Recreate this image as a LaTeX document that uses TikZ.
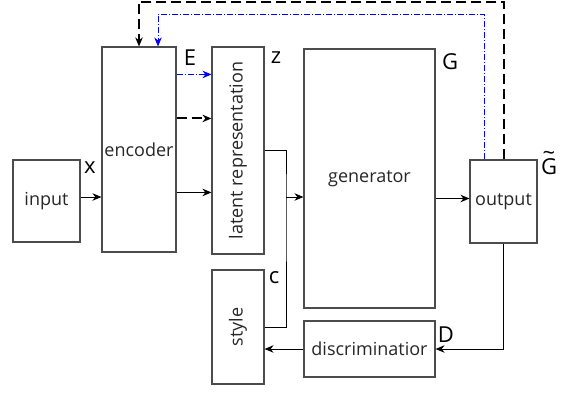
\documentclass[tikz,border=0pt]{standalone}
\usepackage{fontspec}
\setmainfont{Open Sans}
\usetikzlibrary{arrows.meta}

\begin{document}
\begin{tikzpicture}[x=1pt, y=-1pt, >={Stealth[length=9pt,width=7.5pt]},
    every node/.style={font=\fontsize{18}{20}\selectfont, text=black!85},
    block/.style={rectangle, draw=black!70, line width=1.1pt, inner sep=0pt},
    sym/.style={font=\fontsize{22}{24}\selectfont, text=black},
    link/.style={line width=1pt, black},
    skipk/.style={black, line width=2pt, dash pattern=on 10pt off 5pt},
    skipb/.style={blue, line width=0.8pt, dash pattern=on 6pt off 2pt on 1pt off 2pt}]

    \useasboundingbox (0,0) rectangle (569,394);

    % Define the blocks
    \node[block, minimum width=67pt, minimum height=82pt] (input) at (46.5, 201) {input};
    \node[block, minimum width=74pt, minimum height=205pt] (encoder) at (139, 149.5) {encoder};
    \node[block, minimum width=52pt, minimum height=207pt] (latent) at (238, 150.5) {\rotatebox{90}{latent representation}};
    \node[block, minimum width=52pt, minimum height=114pt] (style) at (238, 327) {\rotatebox{90}{style}};
    \node[block, minimum width=131pt, minimum height=259pt] (generator) at (369.5, 178.5) {generator};
    \node[block, minimum width=67pt, minimum height=83pt] (output) at (503.5, 201.5) {output};
    \node[block, minimum width=131pt, minimum height=56pt] (discr) at (369.5, 349) {discriminatior};

    % Define the symbols next to the blocks
    \node[sym] (symx) at (90, 168) {x};
    \node[sym] (symE) at (190, 58) {E};
    \node[sym] (symz) at (276, 58) {z};
    \node[sym] (symG) at (450, 62) {G};
    \node[sym] (symGt) at (549, 167) {\ooalign{G\cr\hidewidth\raisebox{0.66em}{\char"007E}\hidewidth\cr}};
    \node[sym] (symc) at (274, 278) {c};
    \node[sym] (symD) at (446, 335) {D};

    % Define the helper coordinates
    \coordinate (merge) at (286, 197);
    \coordinate (fbk) at (139, 1.5);
    \coordinate (fbb) at (158, 14);

    % Draw the forward connections
    \draw[link, ->] ([yshift=4pt]input.east) -- ([yshift=4pt]input.east -| encoder.west);
    \draw[skipb, ->] ([yshift=-28pt]encoder.north east) -- ([yshift=-28pt]latent.north west);
    \draw[skipk, ->] ([yshift=-72pt]encoder.north east) -- ([yshift=-72pt]latent.north west);
    \draw[link, ->] ([yshift=-146pt]encoder.north east) -- ([yshift=-146pt]latent.north west);
    \draw[link] (latent.east) -| (merge) |- (style.east);
    \draw[link, ->] (merge) -- (merge -| generator.west);
    \draw[link, ->] ([yshift=3pt]output.west -| generator.east) -- ([yshift=3pt]output.west);
    \draw[link, ->] (output.south) |- (discr.east);
    \draw[link, ->] (discr.west) -- (discr.west -| style.east);

    % Draw the feedback connections
    \draw[skipk, ->] (output.north) |- (fbk) -- (encoder.north);
    \draw[skipb, ->] ([xshift=-19.5pt]output.north) |- (fbb) -- (fbb |- encoder.north);

\end{tikzpicture}
\end{document}
